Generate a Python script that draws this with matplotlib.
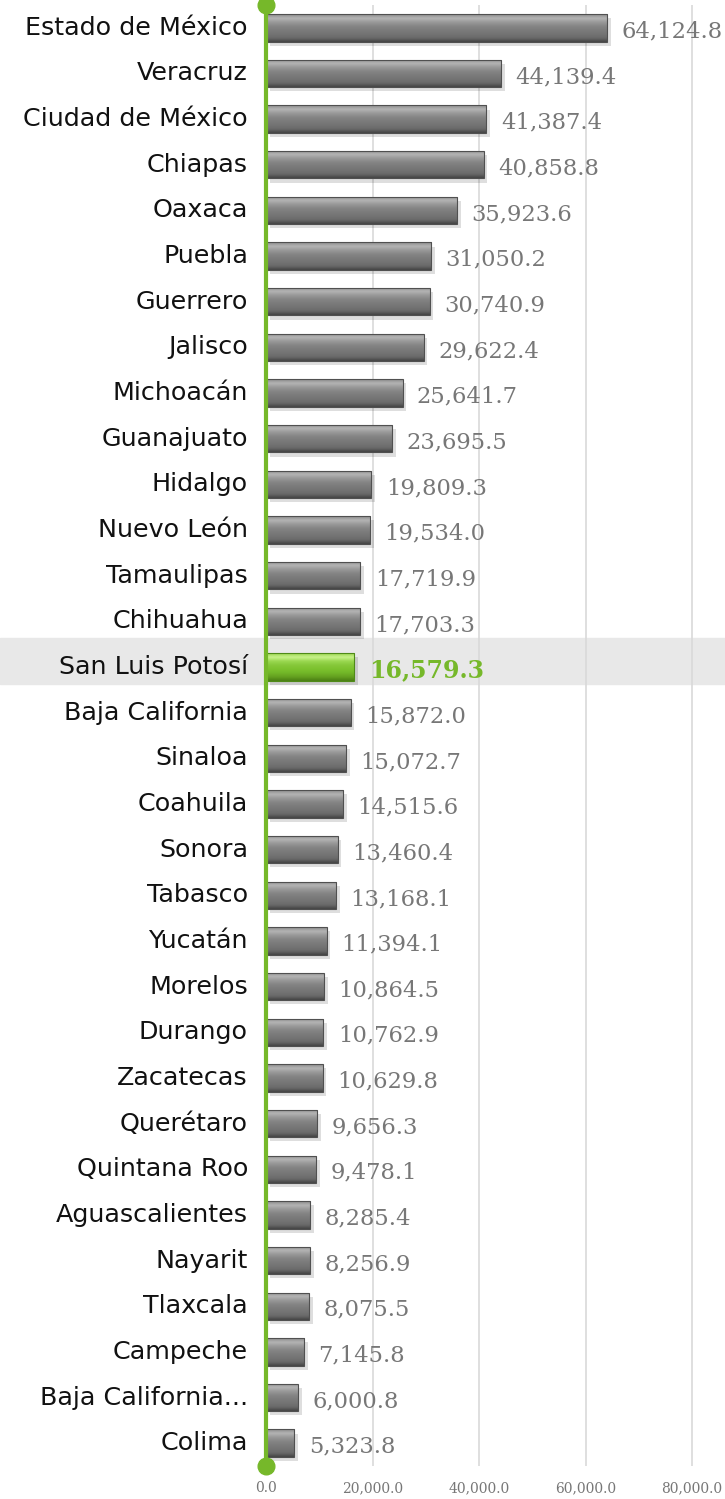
import numpy as np
import matplotlib
matplotlib.use("Agg")
import matplotlib.pyplot as plt
from matplotlib.patches import Rectangle
from matplotlib.colors import LinearSegmentedColormap

states = ["Estado de México", "Veracruz", "Ciudad de México", "Chiapas", "Oaxaca",
          "Puebla", "Guerrero", "Jalisco", "Michoacán", "Guanajuato", "Hidalgo",
          "Nuevo León", "Tamaulipas", "Chihuahua", "San Luis Potosí",
          "Baja California", "Sinaloa", "Coahuila", "Sonora", "Tabasco", "Yucatán",
          "Morelos", "Durango", "Zacatecas", "Querétaro", "Quintana Roo",
          "Aguascalientes", "Nayarit", "Tlaxcala", "Campeche", "Baja California...",
          "Colima"]
values = [64124.8, 44139.4, 41387.4, 40858.8, 35923.6, 31050.2, 30740.9, 29622.4,
          25641.7, 23695.5, 19809.3, 19534.0, 17719.9, 17703.3, 16579.3, 15872.0,
          15072.7, 14515.6, 13460.4, 13168.1, 11394.1, 10864.5, 10762.9, 10629.8,
          9656.3, 9478.1, 8285.4, 8256.9, 8075.5, 7145.8, 6000.8, 5323.8]
highlight = "San Luis Potosí"
xticks = [0, 20000, 40000, 60000, 80000]
xtick_labels = ["0.0", "20,000.0", "40,000.0", "60,000.0", "80,000.0"]

W, H = 725, 1499
fig = plt.figure(figsize=(W / 100, H / 100), dpi=100)
ax_left = 266 / W
ax_bottom = 1 - 1466 / H
ax_top = 1 - 5 / H
ax = fig.add_axes([ax_left, ax_bottom, 1 - ax_left, ax_top - ax_bottom])
xmax = (W - 266) / 106.5 * 20000

n = len(states)
ypos = np.arange(n)
bar_h = 0.6
green = "#76b82a"

gray_cmap = LinearSegmentedColormap.from_list(
    "g", ["#8c8c8c", "#b4b4b4", "#9a9a9a", "#858585", "#7c7c7c", "#747474",
          "#6a6a6a", "#454545"])
green_cmap = LinearSegmentedColormap.from_list(
    "gr", ["#9ad450", "#c8f28a", "#9ad850", "#86c83a", "#7cc22e", "#72b628",
           "#64a020", "#4a7f14"])
grad = np.linspace(0, 1, 64).reshape(-1, 1)

# highlight band across whole figure
hi_idx = states.index(highlight)
slot = (ax_top - ax_bottom) / n
band_y0 = ax_top - (hi_idx + 1) * slot + 6 / H
fig.patches.append(Rectangle((0, band_y0), 1, slot,
                             transform=fig.transFigure, color="#e8e8e8", zorder=-1))
ax.set_facecolor("none")

for gx in xticks[1:]:
    ax.axvline(gx, color="#d9d9d9", lw=1.2, zorder=0.5)

bars = ax.barh(ypos, values, height=bar_h, left=0, color="none",
               edgecolor="#505050", lw=0.8, zorder=2)
for i, (b, v, s) in enumerate(zip(bars, values, states)):
    is_hi = s == highlight
    # soft shadow
    ax.add_patch(Rectangle((700, i - bar_h / 2 + 0.09), v, bar_h,
                           color="#000000", alpha=0.13, zorder=1.5, lw=0))
    im = ax.imshow(grad, cmap=green_cmap if is_hi else gray_cmap, aspect="auto",
                   extent=(0, v, i + bar_h / 2, i - bar_h / 2), origin="upper",
                   zorder=1.8, interpolation="bicubic")
    im.set_clip_path(b)
    if is_hi:
        b.set_edgecolor("#4f8a18")
        ax.text(v + 2700, i + 0.08, f"{v:,.1f}", va="center", ha="left",
                fontsize=17, color=green, fontweight="bold",
                family="DejaVu Serif")
    else:
        ax.text(v + 2700, i + 0.08, f"{v:,.1f}", va="center", ha="left",
                fontsize=16.3, color="#777777", family="DejaVu Serif")
    ax.text(-3400, i, s, va="center", ha="right", fontsize=18.3, color="#111111",
            family="DejaVu Sans")

ax.set_xlim(0, xmax)
ax.set_ylim(n - 0.5, -0.5)

# green axis line with dots
ax.plot([0, 0], [-0.5, n - 0.5], color=green, lw=3, zorder=4, clip_on=False,
        solid_capstyle="butt")
ax.plot([0, 0], [-0.5, n - 0.5], 'o', color=green, ms=12, zorder=5, clip_on=False)

ax.set_yticks([])
ax.set_xticks(xticks)
ax.set_xticklabels(xtick_labels, family="DejaVu Serif", fontsize=10, color="#777777")
ax.tick_params(axis="x", length=0, pad=11)
for sp in ax.spines.values():
    sp.set_visible(False)

fig.savefig("out.png", dpi=100)
